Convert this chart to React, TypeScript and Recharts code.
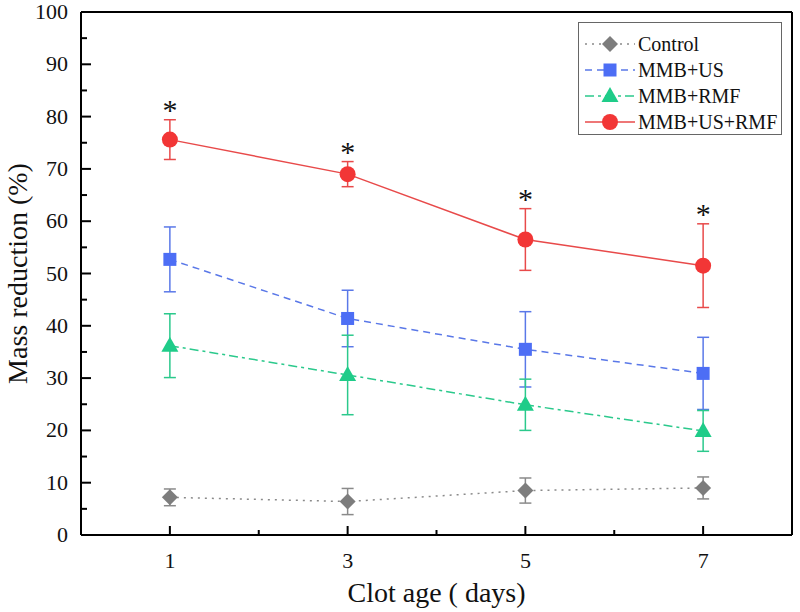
import React from "react";
import { LineChart, Line, XAxis, YAxis, ErrorBar, ReferenceLine, Legend } from "recharts";

document.body.style.margin = "0";

const days = [1, 3, 5, 7];
const controlMean = [7.2, 6.4, 8.5, 9.0];
const controlErr = [1.6, 2.5, 2.4, 2.1];
const usMean = [52.7, 41.4, 35.5, 30.9];
const usErr = [6.2, 5.4, 7.2, 6.9];
const rmfMean = [36.2, 30.6, 24.9, 19.9];
const rmfErr = [6.1, 7.6, 4.9, 3.9];
const comboMean = [75.6, 69.0, 56.5, 51.5];
const comboErr = [3.8, 2.4, 5.9, 8.0];
const xTicks = [0, 1, 2, 3, 4, 5, 6, 7, 8];
const yTicks = [0, 5, 10, 15, 20, 25, 30, 35, 40, 45, 50, 55, 60, 65, 70, 75, 80, 85, 90, 95, 100];

const data = days.map((d, i) => ({
  day: d,
  control: controlMean[i],
  controlErr: controlErr[i],
  us: usMean[i],
  usErr: usErr[i],
  rmf: rmfMean[i],
  rmfErr: rmfErr[i],
  combo: comboMean[i],
  comboErr: comboErr[i],
  star: comboMean[i] + comboErr[i] + 2.6,
}));

const serif = "'Liberation Serif', 'Times New Roman', serif";

type Shape = "diamond" | "square" | "triangle" | "circle";

const series: { key: string; name: string; fill: string; stroke: string; dash?: string; shape: Shape }[] = [
  { key: "control", name: "Control", fill: "#7d7d7d", stroke: "#8a8a8a", dash: "2 5", shape: "diamond" },
  { key: "us", name: "MMB+US", fill: "#4d6ef5", stroke: "#5a78e8", dash: "7 5", shape: "square" },
  { key: "rmf", name: "MMB+RMF", fill: "#1fcc89", stroke: "#2bc98c", dash: "9 4 3 4", shape: "triangle" },
  { key: "combo", name: "MMB+US+RMF", fill: "#f23636", stroke: "#e84a4a", shape: "circle" },
];

const Marker = ({ cx, cy, shape, fill }: { cx: number; cy: number; shape: Shape; fill: string }) => {
  if (shape === "diamond") {
    return <polygon points={`${cx},${cy - 8} ${cx + 8},${cy} ${cx},${cy + 8} ${cx - 8},${cy}`} fill={fill} />;
  }
  if (shape === "square") {
    return <rect x={cx - 6.5} y={cy - 6.5} width={13} height={13} fill={fill} />;
  }
  if (shape === "triangle") {
    return <polygon points={`${cx},${cy - 9} ${cx + 8.5},${cy + 6} ${cx - 8.5},${cy + 6}`} fill={fill} />;
  }
  return <circle cx={cx} cy={cy} r={8} fill={fill} />;
};

const XTick = (props: any) => {
  const { x, y, payload } = props;
  const major = payload.value % 2 === 1;
  return (
    <g>
      <line x1={x} x2={x} y1={y} y2={y - (major ? 9 : 5)} stroke="#000" strokeWidth={2} />
      {major && (
        <text x={x} y={y + 33} textAnchor="middle" fontFamily={serif} fontSize={22} fill="#111">
          {payload.value}
        </text>
      )}
    </g>
  );
};

const YTick = (props: any) => {
  const { x, y, payload } = props;
  const major = payload.value % 10 === 0;
  return (
    <g>
      <line x1={x} x2={x + (major ? 10 : 6)} y1={y} y2={y} stroke="#000" strokeWidth={2} />
      {major && (
        <text x={x - 13} y={y + 7} textAnchor="end" fontFamily={serif} fontSize={22} fill="#111">
          {payload.value}
        </text>
      )}
    </g>
  );
};

const StarDot = (props: any) => {
  const { cx, cy, index } = props;
  return (
    <text key={`star-${index}`} x={cx} y={cy + 14} textAnchor="middle" fontFamily={serif} fontSize={30} fill="#111">
      *
    </text>
  );
};

const LegendBox = () => (
  <div
    style={{
      border: "1px solid #666",
      background: "#fff",
      width: 204,
      height: 113,
      boxSizing: "border-box",
      paddingTop: 8,
      fontFamily: serif,
      fontSize: 20,
      color: "#111",
    }}
  >
    {series.map((s) => (
      <div key={s.key} style={{ display: "flex", alignItems: "center", height: 26 }}>
        <svg width={59} height={20} style={{ flex: "none" }}>
          <line x1={6} x2={56} y1={10} y2={10} stroke={s.stroke} strokeWidth={1.5} strokeDasharray={s.dash} />
          <Marker cx={31} cy={10} shape={s.shape} fill={s.fill} />
        </svg>
        <span>{s.name}</span>
      </div>
    ))}
  </div>
);

export default function App() {
  return (
    <div style={{ width: 800, height: 612, background: "#fff" }}>
      <LineChart width={800} height={612} data={data} margin={{ top: 12, right: 8, left: 0, bottom: 0 }}>
        <XAxis
          type="number"
          dataKey="day"
          domain={[0, 8]}
          ticks={xTicks}
          interval={0}
          tickSize={0}
          tickMargin={0}
          tickLine={false}
          tick={<XTick />}
          height={77}
          axisLine={{ stroke: "#000", strokeWidth: 2 }}
          label={{
            value: "Clot age ( days)",
            position: "insideBottom",
            offset: 10,
            style: { fontFamily: serif, fontSize: 28, fill: "#111" },
          }}
        />
        <YAxis
          type="number"
          domain={[0, 100]}
          ticks={yTicks}
          interval={0}
          tickSize={0}
          tickMargin={0}
          tickLine={false}
          tick={<YTick />}
          width={81}
          axisLine={{ stroke: "#000", strokeWidth: 2 }}
          label={{
            value: "Mass reduction (%)",
            angle: -90,
            position: "insideLeft",
            offset: 17,
            style: { fontFamily: serif, fontSize: 28, fill: "#111", textAnchor: "middle" },
          }}
        />
        <ReferenceLine y={100} stroke="#000" strokeWidth={2} />
        <ReferenceLine x={8} stroke="#000" strokeWidth={2} />
        {series.map((s) => (
          <Line
            key={s.key}
            dataKey={s.key}
            type="linear"
            stroke={s.stroke}
            strokeWidth={1.5}
            strokeDasharray={s.dash}
            isAnimationActive={false}
            activeDot={false}
            dot={(p: any) => <Marker key={`${s.key}-${p.index}`} cx={p.cx} cy={p.cy} shape={s.shape} fill={s.fill} />}
          >
            <ErrorBar dataKey={`${s.key}Err`} width={6} stroke={s.stroke} strokeWidth={1.5} direction="y" />
          </Line>
        ))}
        <Line
          dataKey="star"
          stroke="none"
          isAnimationActive={false}
          activeDot={false}
          legendType="none"
          dot={StarDot}
        />
        <Legend
          layout="vertical"
          align="center"
          verticalAlign="middle"
          wrapperStyle={{ top: 22, left: 578, width: 204 }}
          content={<LegendBox />}
        />
      </LineChart>
    </div>
  );
}
